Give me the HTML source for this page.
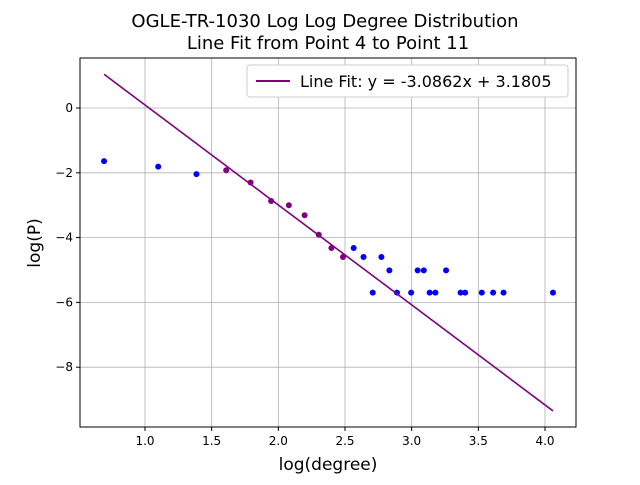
<!DOCTYPE html>
<html><head><meta charset="utf-8"><style>
body{margin:0;background:#fff;}
svg text{font-family:"DejaVu Sans","Liberation Sans",sans-serif;}
</style></head><body>
<svg id="chart" width="640" height="480" xmlns="http://www.w3.org/2000/svg">
<rect width="640" height="480" fill="#fff"/>
<text x="325" y="27" text-anchor="middle" font-size="18">OGLE-TR-1030 Log Log Degree Distribution</text>
<text x="328" y="49" text-anchor="middle" font-size="18">Line Fit from Point 4 to Point 11</text>
<g id="grid"></g><g id="ticks"></g><g id="marks"></g>
<rect x="80" y="58" width="496" height="369" fill="none" stroke="#000" stroke-width="1"/>
<text x="328" y="470" text-anchor="middle" font-size="17">log(degree)</text>
<text transform="translate(40,243) rotate(-90)" text-anchor="middle" font-size="17">log(P)</text>
<g>
<rect x="247" y="65" width="321" height="32" rx="3" fill="#fff" stroke="#ccc"/>
<line x1="256" y1="81" x2="290" y2="81" stroke="#800080" stroke-width="2"/>
<text x="300" y="87" font-size="16">Line Fit: y = -3.0862x + 3.1805</text>
</g>
</svg>
<script>
const xVals=[0.693,1.099,1.386,1.609,1.792,1.946,2.079,2.197,2.303,2.398,2.485,2.565,2.639,2.708,2.773,2.833,2.890,2.996,3.045,3.091,3.135,3.178,3.258,3.367,3.401,3.526,3.611,3.689,4.060];
const yVals=[-1.64,-1.81,-2.04,-1.92,-2.30,-2.87,-3.00,-3.31,-3.91,-4.32,-4.60,-4.32,-4.60,-5.70,-4.60,-5.01,-5.70,-5.70,-5.01,-5.01,-5.70,-5.70,-5.01,-5.70,-5.70,-5.70,-5.70,-5.70,-5.70];
const fitSlope=-3.0862, fitIntercept=3.1805, fitStart=3, fitEnd=10;
const xTicks=[1.0,1.5,2.0,2.5,3.0,3.5,4.0];
const yTicks=[0,-2,-4,-6,-8];
const NS="http://www.w3.org/2000/svg";
const X=v=>145+(v-1)*133.33;
const Y=v=>108-v*32.4;
function mk(tag,attrs,parent){const e=document.createElementNS(NS,tag);for(const k in attrs)e.setAttribute(k,attrs[k]);document.getElementById(parent).appendChild(e);return e;}
xTicks.forEach(t=>{
 let g=mk('line',{x1:X(t),x2:X(t),y1:58,y2:427,stroke:'#b0b0b0','stroke-width':0.8},'grid');
 
 
 let k=mk('line',{x1:X(t),x2:X(t),y1:427,y2:431,stroke:'#000'},'ticks');
 
 
 let l=mk('text',{x:X(t),y:445,'text-anchor':'middle','font-size':12},'ticks');l.textContent=t.toFixed(1);
 
 
});
yTicks.forEach(t=>{
 let g=mk('line',{x1:80,x2:576,y1:Y(t),y2:Y(t),stroke:'#b0b0b0','stroke-width':0.8},'grid');
 
 
 let k=mk('line',{x1:76,x2:80,y1:Y(t),y2:Y(t),stroke:'#000'},'ticks');
 
 
 let l=mk('text',{x:73,y:Y(t)+4,'text-anchor':'end','font-size':12},'ticks');l.textContent=t<0?'\u2212'+Math.abs(t):String(t);
 
 
});
xVals.forEach((x,i)=>{
 const fit=i>=fitStart&&i<=fitEnd;
 let c=mk('circle',{cx:X(x),cy:Y(yVals[i]),r:3,fill:fit?'#800080':'#0000ff'},'marks');
 
 
});
const x0=xVals[0],x1=xVals[xVals.length-1];
let fl=mk('line',{x1:X(x0),y1:Y(fitSlope*x0+fitIntercept),x2:X(x1),y2:Y(fitSlope*x1+fitIntercept),stroke:'#800080','stroke-width':1.6},'marks');


</script>
</body></html>
